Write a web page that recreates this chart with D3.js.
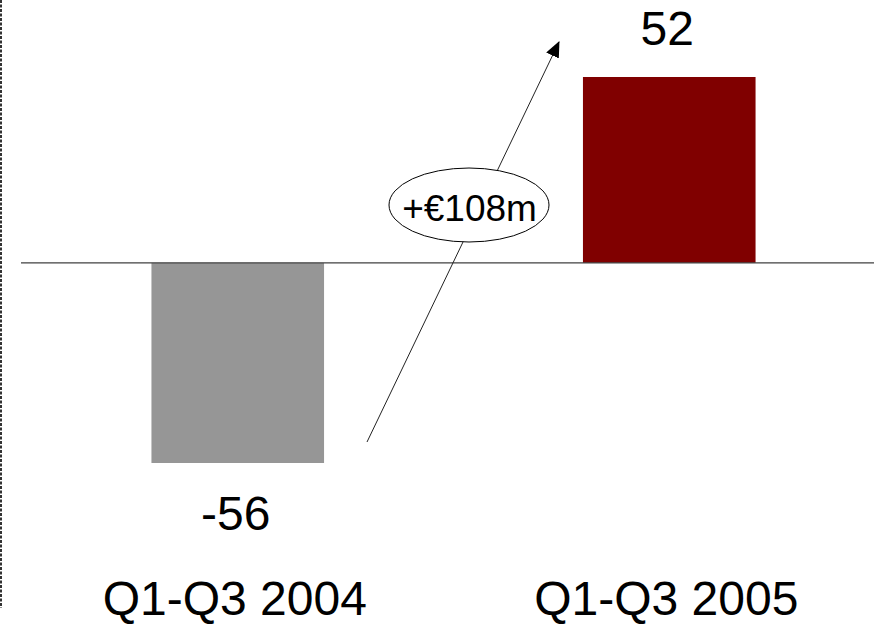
<!DOCTYPE html>
<html>
<head>
<meta charset="utf-8">
<script src="https://cdn.jsdelivr.net/npm/d3@7"></script>
<style>
  body { margin: 0; background: #fff; }
  text { font-family: "Liberation Sans", Arial, sans-serif; }
</style>
</head>
<body>
<div id="the_chart"></div>
<script>
var periods = ["Q1-Q3 2004", "Q1-Q3 2005"];
var values = [-56, 52];
var barColors = ["#969696", "#800000"];

var w = 874;
var h = 627;

var svg = d3.select("#the_chart")
  .append("svg")
  .attr("width", w)
  .attr("height", h);

var xscale = d3.scaleBand()
  .domain(periods)
  .range([22, 885])
  .paddingInner(0.6)
  .paddingOuter(0.3);

var yscale = d3.scaleLinear()
  .domain([-56, 52])
  .range([463, 77]);

// dotted frame edge on the left
svg.append("line")
  .attr("x1", 1).attr("x2", 1)
  .attr("y1", 0).attr("y2", 608)
  .attr("stroke", "#333")
  .attr("stroke-width", 2)
  .attr("stroke-dasharray", "3,1.5");

svg.selectAll("rect.bar")
  .data(values)
  .enter().append("rect")
  .attr("class", "bar")
  .attr("x", function (d, i) { return xscale(periods[i]); })
  .attr("width", xscale.bandwidth())
  .attr("y", function (d) { return yscale(Math.max(0, d)); })
  .attr("height", function (d) { return Math.abs(yscale(d) - yscale(0)); })
  .attr("fill", function (d, i) { return barColors[i]; });

// zero line
svg.append("line")
  .attr("x1", 21).attr("x2", w)
  .attr("y1", yscale(0)).attr("y2", yscale(0))
  .attr("stroke", "#404040")
  .attr("stroke-width", 1.3);

// value labels
svg.selectAll("text.val")
  .data(values)
  .enter().append("text")
  .attr("class", "val")
  .attr("x", function (d, i) { return xscale(periods[i]) + xscale.bandwidth() / 2 - 2; })
  .attr("y", function (d) { return d > 0 ? yscale(d) - 32 : yscale(d) + 67; })
  .attr("text-anchor", "middle")
  .attr("font-size", 48)
  .attr("fill", "#000")
  .text(function (d) { return d; });

// category labels
svg.selectAll("text.cat")
  .data(periods)
  .enter().append("text")
  .attr("class", "cat")
  .attr("x", function (d) { return xscale(d) + xscale.bandwidth() / 2 - 3; })
  .attr("y", 615)
  .attr("text-anchor", "middle")
  .attr("font-size", 48)
  .attr("fill", "#000")
  .text(function (d) { return d; });

// change arrow
svg.append("defs").append("marker")
  .attr("id", "head")
  .attr("markerUnits", "userSpaceOnUse")
  .attr("viewBox", "0 0 16 14")
  .attr("refX", 15).attr("refY", 7)
  .attr("markerWidth", 16).attr("markerHeight", 14)
  .attr("orient", "auto")
  .append("path")
  .attr("d", "M0,0 L16,7 L0,14 Z")
  .attr("fill", "#000");

svg.append("line")
  .attr("x1", 367).attr("y1", 442)
  .attr("x2", 559).attr("y2", 42)
  .attr("stroke", "#222")
  .attr("stroke-width", 1)
  .attr("marker-end", "url(#head)");

svg.append("ellipse")
  .attr("cx", 469).attr("cy", 205)
  .attr("rx", 80).attr("ry", 37)
  .attr("fill", "#fff")
  .attr("stroke", "#000")
  .attr("stroke-width", 1);

svg.append("text")
  .attr("x", 469.5).attr("y", 221)
  .attr("text-anchor", "middle")
  .attr("font-size", 37)
  .attr("fill", "#000")
  .text("+€" + (values[1] - values[0]) + "m");
</script>
</body>
</html>
